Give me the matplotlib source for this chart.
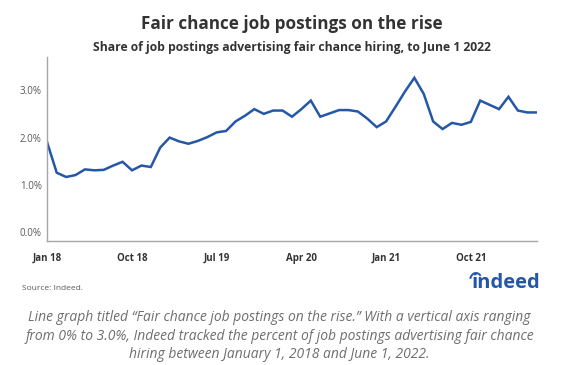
import numpy as np
import matplotlib
matplotlib.use("Agg")
import matplotlib.pyplot as plt
from matplotlib.patches import Arc

# ── Data (monthly, Jan 2018 – May 2022, % of postings) ─────────────────────────
share = [
    1.89, 1.26, 1.17, 1.21, 1.33, 1.31, 1.32, 1.41, 1.49, 1.31, 1.41, 1.38,   # 2018
    1.79, 2.00, 1.92, 1.87, 1.93, 2.01, 2.11, 2.14, 2.34, 2.46, 2.60, 2.50,   # 2019
    2.57, 2.57, 2.44, 2.60, 2.78, 2.44, 2.51, 2.58, 2.58, 2.55, 2.40, 2.22,   # 2020
    2.34, 2.65, 2.97, 3.26, 2.92, 2.34, 2.18, 2.31, 2.27, 2.33, 2.78, 2.69,   # 2021
    2.60, 2.86, 2.57, 2.53, 2.53,                                             # 2022
]
months = np.arange(len(share))
tick_pos = [0, 9, 18, 27, 36, 45]
tick_labels = ["Jan 18", "Oct 18", "Jul 19", "Apr 20", "Jan 21", "Oct 21"]
y_ticks = [0.0, 1.0, 2.0, 3.0]

# ── Style ──────────────────────────────────────────────────────────────────────
LINE = "#2557a7"
LOGO = "#2557a7"
DARK = "#333333"
GREY = "#595959"
SPINE = "#a6a6a6"

plt.rcParams["font.family"] = ["Open Sans", "DejaVu Sans"]

fig = plt.figure(figsize=(5.74, 3.65), dpi=100)
ax = fig.add_axes([0.0824, 0.341, 0.8526, 0.503])

ax.plot(months, share, color=LINE, lw=1.8, solid_joinstyle="miter")

ax.set_xlim(0, 52)
ax.set_ylim(-0.17, 3.7)
ax.set_xticks(tick_pos)
ax.set_xticklabels(tick_labels, fontsize=7, fontweight="bold", color=DARK)
ax.set_yticks(y_ticks)
ax.set_yticklabels([f"{v:.1f}%" for v in y_ticks], fontsize=7, color=GREY)
ax.tick_params(axis="x", length=0, pad=9)
ax.tick_params(axis="y", length=0, pad=4)

for side in ("top", "right"):
    ax.spines[side].set_visible(False)
for side in ("left", "bottom"):
    ax.spines[side].set_color(SPINE)
    ax.spines[side].set_linewidth(1.0)

# ── Titles ─────────────────────────────────────────────────────────────────────
fig.text(0.509, 1 - 24 / 365, "Fair chance job postings on the rise",
         ha="center", va="center", fontsize=12.3, fontweight="bold", color=DARK)
fig.text(0.509, 1 - 48 / 365,
         "Share of job postings advertising fair chance hiring, to June 1 2022",
         ha="center", va="center", fontsize=8.7, fontweight="bold", color=DARK)

# ── Footer ─────────────────────────────────────────────────────────────────────
fig.text(22 / 574, 1 - 289 / 365, "Source: Indeed.",
         ha="left", va="center", fontsize=6, color=GREY)

fig.text(540 / 574, 1 - 283 / 365, "indeed", ha="right", va="center",
         fontsize=14.5, fontweight="bold", color=LOGO)
fig.patches.append(Arc((476 / 574, 1 - 281 / 365), 12 / 574, 16 / 365,
                       theta1=60, theta2=150, color=LOGO, lw=1.4,
                       transform=fig.transFigure))

caption = ("Line graph titled \u201cFair chance job postings on the rise.\u201d "
           "With a vertical axis ranging\n"
           "from 0% to 3.0%, Indeed tracked the percent of job postings "
           "advertising fair chance\n"
           "hiring between January 1, 2018 and June 1, 2022.")
fig.text(0.487, 1 - 336 / 365, caption, ha="center", va="center",
         fontsize=10, style="italic", color="#6e6e6e", linespacing=1.28)

fig.savefig("out.png", dpi=100)
